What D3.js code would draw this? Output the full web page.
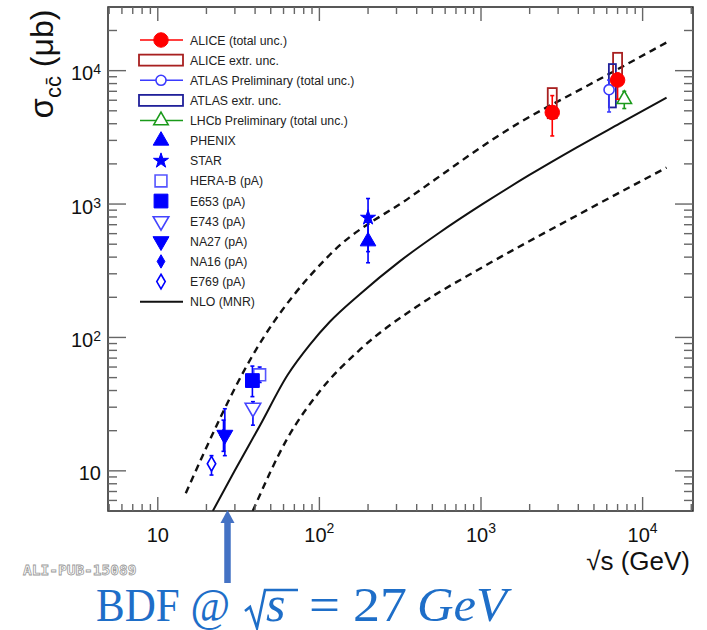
<!DOCTYPE html>
<html>
<head>
<meta charset="utf-8">
<script src="https://cdn.jsdelivr.net/npm/d3@7"></script>
<style>
  body { margin: 0; background: #fff; }
  svg { display: block; }
</style>
</head>
<body>
<svg id="chart" width="707" height="630"></svg>
<script>
// ---- data (energies in GeV, cross sections in microbarn) ----
const aliceEnergy = [2760, 7000];
const aliceSigma  = [4860, 8500];
const aliceLo     = [3240, 6100];
const aliceHi     = [6500, 9600];
const aliceExtrLo = [4400, 8100];
const aliceExtrHi = [7400, 13600];

const atlasEnergy    = [6200];
const atlasSigma     = [7200];
const atlasLo        = [4900];
const atlasHi        = [8500];
const atlasBoxEnergy = [6500];
const atlasExtrLo    = [5300];
const atlasExtrHi    = [11200];

const lhcbEnergy = [7700];
const lhcbSigma  = [6100];
const lhcbLo     = [5200];
const lhcbHi     = [7000];

const pointLabels = ["PHENIX", "STAR", "HERA-B (pA)", "E653 (pA)", "E743 (pA)", "NA16 (pA)", "NA27 (pA)", "E769 (pA)"];
const pointEnergy = [200, 200, 42.7, 38.5, 38.8, 25.5, 26, 21.5];
const pointSigma  = [525, 790, 52.5, 47.5, 29.7, 18.5, 18.6, 11.3];
const pointLo     = [363, 440, 46, 36, 22, 14, 13, 9.3];
const pointHi     = [730, 1100, 60, 61, 33, 24, 29.2, 13];

const nloCentralEnergy = [21.9, 29.9, 42.8, 63.7, 87.1, 116, 178, 314, 555, 1009, 1995, 3896, 7190, 14060];
const nloCentralSigma  = [5.0, 10, 21.8, 52.5, 88, 131, 211, 372, 612, 989, 1652, 2650, 4008, 6280];
const nloUpperEnergy   = [14.9, 39.8, 116, 361, 1734, 4700, 14060];
const nloUpperSigma    = [6.8, 78, 417, 1117, 4083, 7870, 16250];
const nloLowerEnergy   = [38.7, 63.7, 100, 178, 417, 1009, 3896, 14060];
const nloLowerSigma    = [5.0, 17.7, 39.2, 80.9, 176, 333, 818, 1875];

const legendLabels = ["ALICE (total unc.)", "ALICE extr. unc.", "ATLAS Preliminary (total unc.)", "ATLAS extr. unc.",
  "LHCb Preliminary (total unc.)", "PHENIX", "STAR", "HERA-B (pA)", "E653 (pA)", "E743 (pA)", "NA27 (pA)",
  "NA16 (pA)", "E769 (pA)", "NLO (MNR)"];

const xTickValues = [10, 100, 1000, 10000];
const xTickExp    = ["", "2", "3", "4"];
const yTickValues = [10, 100, 1000, 10000];
const yTickExp    = ["", "2", "3", "4"];

const bdfEnergy = 27;

// ---- styles ----
const BLUE = "#0000ff", RED = "#ff0000", DARKRED = "#a82020", ATLASBLUE = "#3a3aff", NAVY = "#20209a", GREEN = "#1a9a1a";
const markerStyle = {
  "ALICE (total unc.)": {type: "circle", color: RED, filled: true, size: 165, line: true},
  "ALICE extr. unc.": {type: "box", color: DARKRED},
  "ATLAS Preliminary (total unc.)": {type: "circle", color: ATLASBLUE, filled: false, size: 80, line: true},
  "ATLAS extr. unc.": {type: "box", color: NAVY},
  "LHCb Preliminary (total unc.)": {type: "triUp", color: GREEN, filled: false, size: 90, line: true},
  "PHENIX": {type: "triUp", color: BLUE, filled: true, size: 105},
  "STAR": {type: "star", color: BLUE, filled: true, size: 70},
  "HERA-B (pA)": {type: "square", color: "#5555ff", filled: false, size: 140},
  "E653 (pA)": {type: "square", color: BLUE, filled: true, size: 190},
  "E743 (pA)": {type: "triDown", color: "#4444ff", filled: false, size: 105},
  "NA27 (pA)": {type: "triDown", color: BLUE, filled: true, size: 110},
  "NA16 (pA)": {type: "diamond", color: BLUE, filled: true, size: 52},
  "E769 (pA)": {type: "diamond", color: BLUE, filled: false, size: 62},
  "NLO (MNR)": {type: "nlo", color: "#111"}
};

const svg = d3.select("#chart");
svg.append("rect").attr("width", 707).attr("height", 630).attr("fill", "#fff");

const plot = {left: 108, right: 693, top: 7, bottom: 511};
const x = d3.scaleLog().domain([4.92, 2.05e4]).range([plot.left, plot.right]);
const y = d3.scaleLog().domain([5, 3e4]).range([plot.bottom, plot.top]);

svg.append("defs").append("clipPath").attr("id", "plotClip")
  .append("rect")
  .attr("x", plot.left).attr("y", plot.top)
  .attr("width", plot.right - plot.left).attr("height", plot.bottom - plot.top);

function symbolPath(type, size) {
  const t = {circle: d3.symbolCircle, square: d3.symbolSquare, triUp: d3.symbolTriangle,
             triDown: d3.symbolTriangle, star: d3.symbolStar, diamond: d3.symbolDiamond}[type];
  return d3.symbol().type(t).size(size)();
}

function drawMarker(g, name, cx, cy) {
  const s = markerStyle[name];
  let rot = s.type === "triDown" ? " rotate(180)" : "";
  g.append("path")
    .attr("d", symbolPath(s.type, s.size))
    .attr("transform", `translate(${cx},${cy})${rot}`)
    .attr("fill", s.filled ? s.color : "#fff")
    .attr("stroke", s.color)
    .attr("stroke-width", s.filled ? 1 : 1.6);
}

function drawErrorBar(g, cx, lo, hi, color) {
  g.append("line")
    .attr("x1", cx).attr("x2", cx).attr("y1", y(lo)).attr("y2", y(hi))
    .attr("stroke", color).attr("stroke-width", 1.6);
  [lo, hi].forEach(v => {
    g.append("line")
      .attr("x1", cx - 2).attr("x2", cx + 2).attr("y1", y(v)).attr("y2", y(v))
      .attr("stroke", color).attr("stroke-width", 1.6);
  });
}

// ---- NLO curves ----
const curves = svg.append("g").attr("clip-path", "url(#plotClip)");
const lineGen = d3.line().x(d => x(d[0])).y(d => y(d[1])).curve(d3.curveMonotoneX);

curves.append("path")
  .attr("d", lineGen(d3.zip(nloUpperEnergy, nloUpperSigma)))
  .attr("fill", "none").attr("stroke", "#111").attr("stroke-width", 2.4).attr("stroke-dasharray", "7,5");
curves.append("path")
  .attr("d", lineGen(d3.zip(nloLowerEnergy, nloLowerSigma)))
  .attr("fill", "none").attr("stroke", "#111").attr("stroke-width", 2.4).attr("stroke-dasharray", "7,5");
curves.append("path")
  .attr("d", lineGen(d3.zip(nloCentralEnergy, nloCentralSigma)))
  .attr("fill", "none").attr("stroke", "#111").attr("stroke-width", 2);

// ---- frame and ticks ----
const axes = svg.append("g");
axes.append("rect")
  .attr("x", plot.left).attr("y", plot.top)
  .attr("width", plot.right - plot.left).attr("height", plot.bottom - plot.top)
  .attr("fill", "none").attr("stroke", "#222").attr("stroke-width", 1.5);

function minorTicks(scale) {
  const [a, b] = scale.domain();
  const out = [];
  for (let e = Math.floor(Math.log10(a)); e <= Math.ceil(Math.log10(b)); e++) {
    for (let m = 1; m < 10; m++) {
      const v = m * Math.pow(10, e);
      if (v > a && v < b) out.push({v: v, major: m === 1});
    }
  }
  return out;
}

const TICKC = "#666";
minorTicks(x).forEach(t => {
  const px = x(t.v), len = t.major ? 14 : 7;
  axes.append("line").attr("x1", px).attr("x2", px).attr("y1", plot.bottom).attr("y2", plot.bottom - len)
    .attr("stroke", TICKC).attr("stroke-width", 1.4);
  axes.append("line").attr("x1", px).attr("x2", px).attr("y1", plot.top).attr("y2", plot.top + len)
    .attr("stroke", TICKC).attr("stroke-width", 1.4);
});
minorTicks(y).forEach(t => {
  const py = y(t.v), len = t.major ? 18 : 9;
  axes.append("line").attr("x1", plot.left).attr("x2", plot.left + len).attr("y1", py).attr("y2", py)
    .attr("stroke", TICKC).attr("stroke-width", 1.4);
  axes.append("line").attr("x1", plot.right).attr("x2", plot.right - len).attr("y1", py).attr("y2", py)
    .attr("stroke", TICKC).attr("stroke-width", 1.4);
});

// tick labels
const FONT = "'Liberation Sans', Arial, Helvetica, sans-serif";
xTickValues.forEach((v, i) => {
  const t = axes.append("text")
    .attr("x", x(v)).attr("y", plot.bottom + 31)
    .attr("text-anchor", "middle")
    .style("font-family", FONT).style("font-size", "20px").attr("fill", "#111");
  t.append("tspan").text("10");
  if (xTickExp[i]) t.append("tspan").attr("dy", -9).style("font-size", "14px").text(xTickExp[i]);
});
yTickValues.forEach((v, i) => {
  const t = axes.append("text")
    .attr("x", 101).attr("y", y(v) + 9.5)
    .attr("text-anchor", "end")
    .style("font-family", FONT).style("font-size", "20px").attr("fill", "#111");
  t.append("tspan").text("10");
  if (yTickExp[i]) t.append("tspan").attr("dy", -6).style("font-size", "14px").text(yTickExp[i]);
});

// axis titles
svg.append("text")
  .attr("x", 690).attr("y", 570).attr("text-anchor", "end")
  .style("font-family", FONT).style("font-size", "26px").attr("fill", "#111")
  .text("\u221As (GeV)");

const yt = svg.append("text")
  .attr("transform", "translate(53,64) rotate(-90)")
  .attr("text-anchor", "middle")
  .style("font-family", FONT).attr("fill", "#111");
yt.append("tspan").style("font-size", "33px").text("\u03C3");
yt.append("tspan").attr("dy", 8).style("font-size", "22px").text("cc\u0304");
yt.append("tspan").attr("dy", -8).style("font-size", "32px").text(" (\u03BCb)");

// ---- data ----
const data = svg.append("g").attr("clip-path", "url(#plotClip)");

// extrapolation boxes
aliceEnergy.forEach((e, i) => {
  data.append("rect")
    .attr("x", x(e) - 4.5).attr("width", 9)
    .attr("y", y(aliceExtrHi[i])).attr("height", y(aliceExtrLo[i]) - y(aliceExtrHi[i]))
    .attr("fill", "none").attr("stroke", DARKRED).attr("stroke-width", 1.8);
});
atlasBoxEnergy.forEach((e, i) => {
  data.append("rect")
    .attr("x", x(e) - 3.5).attr("width", 7)
    .attr("y", y(atlasExtrHi[i])).attr("height", y(atlasExtrLo[i]) - y(atlasExtrHi[i]))
    .attr("fill", "none").attr("stroke", NAVY).attr("stroke-width", 1.8);
});

// low energy and RHIC points
pointLabels.forEach((name, i) => {
  drawErrorBar(data, x(pointEnergy[i]), pointLo[i], pointHi[i], BLUE);
});
pointLabels.forEach((name, i) => {
  drawMarker(data, name, x(pointEnergy[i]), y(pointSigma[i]));
});

// LHC points
atlasEnergy.forEach((e, i) => {
  drawErrorBar(data, x(e), atlasLo[i], atlasHi[i], ATLASBLUE);
  drawMarker(data, "ATLAS Preliminary (total unc.)", x(e), y(atlasSigma[i]));
});
lhcbEnergy.forEach((e, i) => {
  drawErrorBar(data, x(e), lhcbLo[i], lhcbHi[i], GREEN);
  drawMarker(data, "LHCb Preliminary (total unc.)", x(e), y(lhcbSigma[i]));
});
aliceEnergy.forEach((e, i) => {
  drawErrorBar(data, x(e), aliceLo[i], aliceHi[i], RED);
  drawMarker(data, "ALICE (total unc.)", x(e), y(aliceSigma[i]));
});

// ---- legend ----
const legend = svg.append("g");
const legX = 161, legTextX = 190, legY0 = 40, legStep = 20.13;
legendLabels.forEach((name, i) => {
  const ly = legY0 + i * legStep;
  const s = markerStyle[name];
  if (s.line) {
    legend.append("line").attr("x1", 140).attr("x2", 183).attr("y1", ly).attr("y2", ly)
      .attr("stroke", s.color).attr("stroke-width", 1.6);
  }
  if (s.type === "box") {
    legend.append("rect").attr("x", 139).attr("y", ly - 5.5).attr("width", 44).attr("height", 11)
      .attr("fill", "none").attr("stroke", s.color).attr("stroke-width", 1.8);
  } else if (s.type === "nlo") {
    legend.append("line").attr("x1", 140).attr("x2", 183).attr("y1", ly).attr("y2", ly)
      .attr("stroke", s.color).attr("stroke-width", 2);
  } else {
    drawMarker(legend, name, legX, ly);
  }
  legend.append("text")
    .attr("x", legTextX).attr("y", ly + 4.5)
    .style("font-family", FONT).style("font-size", "12.3px").attr("fill", "#222")
    .text(name);
});

// ---- annotations ----
svg.append("text")
  .attr("x", 23).attr("y", 575)
  .style("font-family", "'DejaVu Sans Mono', monospace").style("font-weight", "bold").style("font-size", "14.5px")
  .attr("fill", "#fff").attr("stroke", "#999").attr("stroke-width", 0.8)
  .text("ALI-PUB-15089");

const ARROW = "#4472c4";
const ax = x(bdfEnergy);
svg.append("line").attr("x1", ax).attr("x2", ax).attr("y1", 520).attr("y2", 583)
  .attr("stroke", ARROW).attr("stroke-width", 6.5);
svg.append("path")
  .attr("d", `M${ax},${510} L${ax + 7},${523} L${ax - 7},${523} Z`)
  .attr("fill", ARROW);

const BDF = "#1e6ec8";
const SERIF = "'Liberation Serif', 'Times New Roman', serif";
svg.append("text").attr("x", 96).attr("y", 621)
  .style("font-family", SERIF).style("font-size", "47px").attr("fill", BDF)
  .attr("textLength", 134).attr("lengthAdjust", "spacingAndGlyphs")
  .text("BDF @");
svg.append("path")
  .attr("d", "M245,611 L250,607 L257,628 L265,590 L298,590")
  .attr("fill", "none").attr("stroke", BDF).attr("stroke-width", 2.6);
svg.append("text").attr("x", 266).attr("y", 621)
  .style("font-family", SERIF).style("font-style", "italic").style("font-size", "50px").attr("fill", BDF)
  .text("s");
svg.append("text").attr("x", 309).attr("y", 621)
  .style("font-family", SERIF).style("font-size", "48px").attr("fill", BDF)
  .attr("textLength", 31).attr("lengthAdjust", "spacingAndGlyphs")
  .text("=");
svg.append("text").attr("x", 353).attr("y", 621)
  .style("font-family", SERIF).style("font-size", "48px").attr("fill", BDF)
  .attr("textLength", 54).attr("lengthAdjust", "spacingAndGlyphs")
  .text("27");
svg.append("text").attr("x", 417).attr("y", 621)
  .style("font-family", SERIF).style("font-style", "italic").style("font-size", "48px").attr("fill", BDF)
  .attr("textLength", 90).attr("lengthAdjust", "spacingAndGlyphs")
  .text("GeV");
</script>
</body>
</html>
